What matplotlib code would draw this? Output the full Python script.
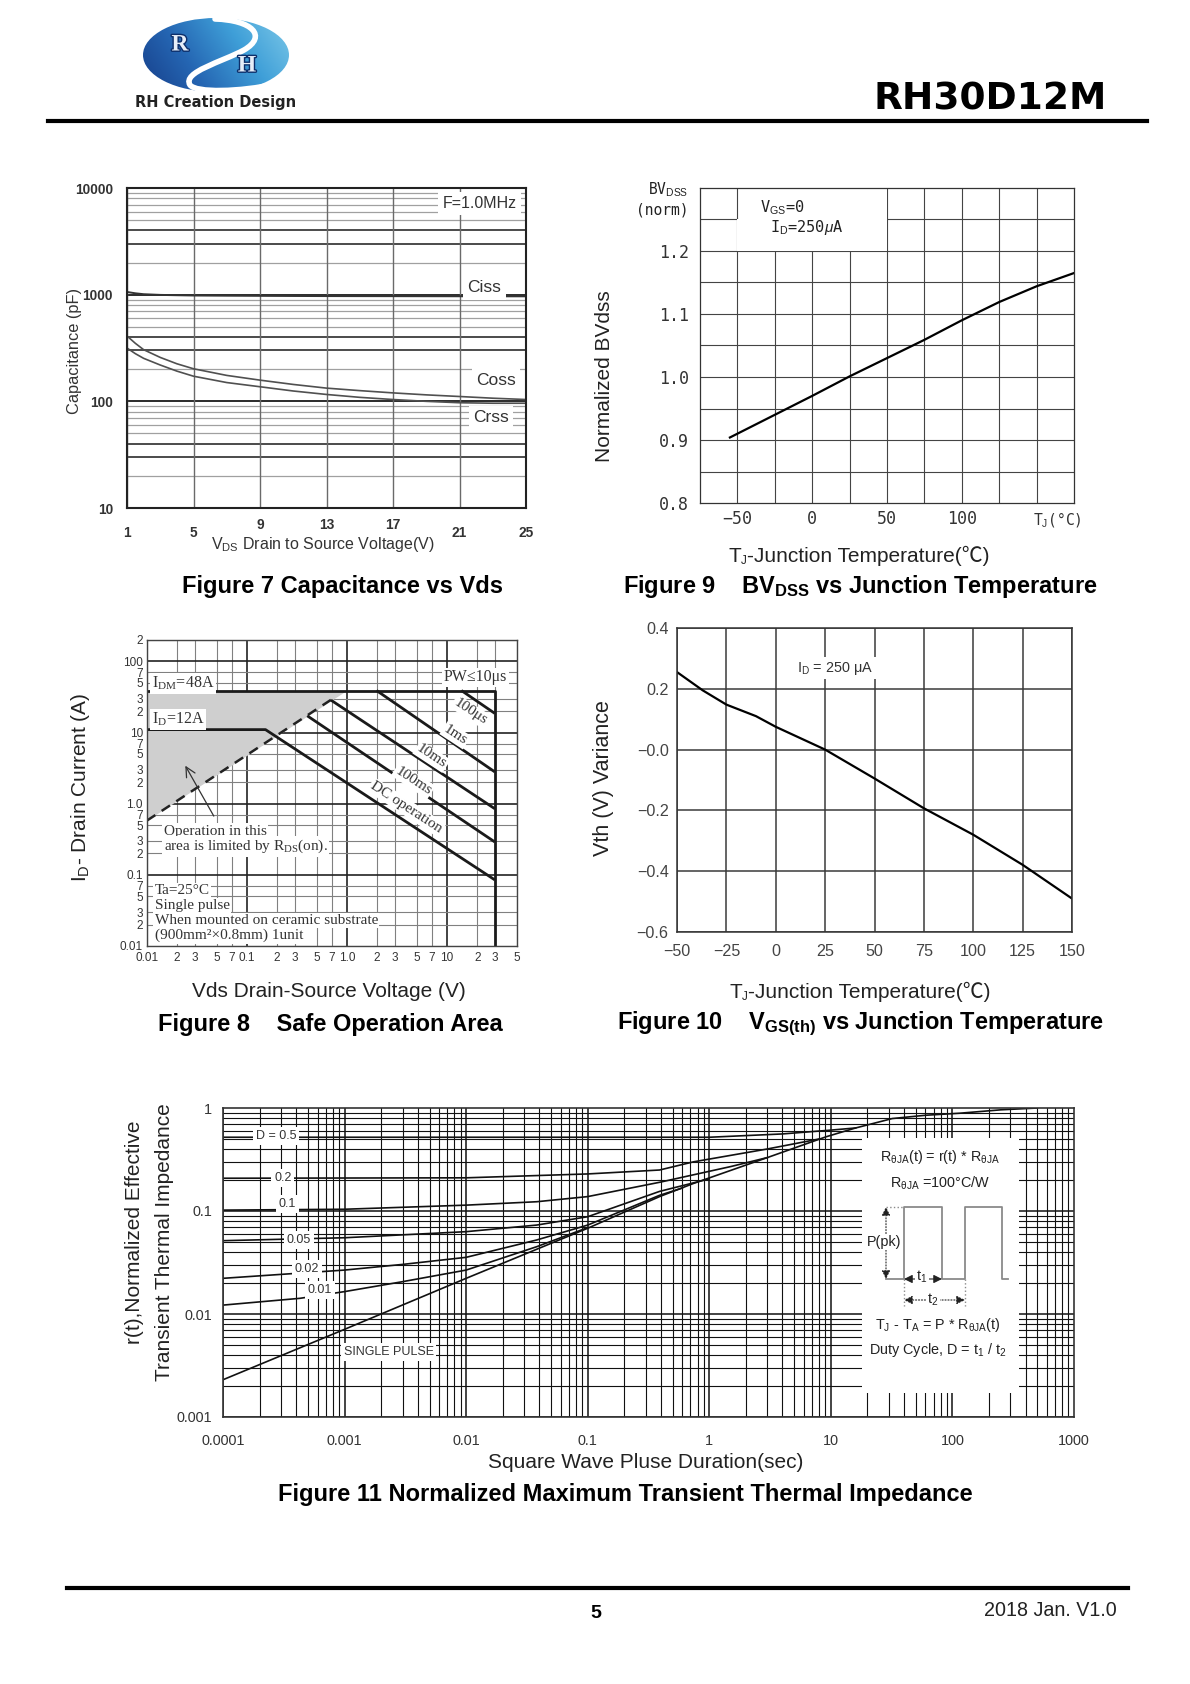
import numpy as np
import matplotlib
matplotlib.use("Agg")
import matplotlib.pyplot as plt
from matplotlib import font_manager
from matplotlib.colors import LinearSegmentedColormap
from matplotlib.patches import Ellipse, Rectangle, PathPatch
from matplotlib.path import Path
from matplotlib.patheffects import withStroke

W, H = 1190, 1684

HAS_NARROW = any(f.name == "Liberation Sans Narrow" for f in font_manager.fontManager.ttflist)
NARROW = "Liberation Sans Narrow" if HAS_NARROW else "Liberation Sans"
NS = 1.0 if HAS_NARROW else 0.86
SANS = ["Liberation Sans", "DejaVu Sans"]
SERIF = ["Liberation Serif", "DejaVu Serif"]
MONO = "DejaVu Sans Mono"

plt.rcParams["font.family"] = SANS
plt.rcParams["mathtext.fontset"] = "custom"
plt.rcParams["mathtext.rm"] = "Liberation Serif"
plt.rcParams["mathtext.sf"] = "Liberation Sans"
plt.rcParams["mathtext.it"] = "Liberation Sans:italic"
plt.rcParams["mathtext.bf"] = "Liberation Sans:bold"

# ---------------- data ----------------
# Figure 7  capacitance vs Vds (pF)
cap_vds = [1, 1.5, 2, 3, 4, 5, 7, 9, 11, 13, 15, 17, 19, 21, 23, 25]
ciss = [1060, 1030, 1010, 995, 988, 982, 978, 975, 972, 970, 969, 968, 967, 966, 965, 965]
coss = [410, 350, 305, 258, 225, 202, 175, 158, 144, 133, 126, 120, 115, 111, 107, 104]
crss = [316, 280, 253, 219, 192, 172, 150, 137, 125, 116, 109, 104, 100, 97, 96, 96]
cap_xticks = [1, 5, 9, 13, 17, 21, 25]
cap_yticks = [10, 100, 1000, 10000]

# Figure 9  normalized BVdss vs Tj
bv_temp = [-55, -25, 0, 25, 50, 75, 100, 125, 150, 175]
bv_norm = [0.904, 0.940, 0.970, 1.001, 1.030, 1.059, 1.090, 1.119, 1.144, 1.165]
bv_xticks = [-50, 0, 50, 100, 164]
bv_xlabels = ["\u221250", "0", "50", "100", "T$_\\mathsf{J}$(\u00b0C)"]
bv_yticks = [0.8, 0.9, 1.0, 1.1, 1.2]

# Figure 8  safe operating area
soa_box_vds = [0.01, 30, 30]
soa_box_id = [39, 39, 0.01]
rds_vds = [0.01, 0.72]
rds_id = [0.58, 30]
shade_vds = [0.01, 0.01, 1.0]
shade_id = [0.58, 39, 39]
dc_vds = [0.01, 0.153, 30]
dc_id = [11, 11, 0.085]
ms100_vds = [0.40, 30]
ms100_id = [17.2, 0.29]
ms10_vds = [0.69, 30]
ms10_id = [28.6, 0.85]
ms1_vds = [1.97, 30]
ms1_id = [39, 2.8]
us100_vds = [13.9, 30]
us100_id = [39, 18.6]
soa_line_labels = ["100\u03bcs", "1ms", "10ms", "100ms", "DC operation"]
soa_label_vds = [17.1, 12.1, 7.0, 4.6, 3.9]
soa_label_id = [19.8, 9.2, 4.6, 2.1, 0.89]
soa_xticks = [0.01, 0.02, 0.03, 0.05, 0.07, 0.1, 0.2, 0.3, 0.5, 0.7, 1, 2, 3, 5, 7, 10, 20, 30, 50]
soa_xlabels = ["0.01", "2", "3", "5", "7", "0.1", "2", "3", "5", "7", "1.0", "2", "3", "5", "7", "10", "2", "3", "5"]
soa_yticks = [0.01, 0.02, 0.03, 0.05, 0.07, 0.1, 0.2, 0.3, 0.5, 0.7, 1, 2, 3, 5, 7,
              10, 20, 30, 50, 70, 100, 200]
soa_ylabels = ["0.01", "2", "3", "5", "7", "0.1", "2", "3", "5", "7", "1.0", "2", "3", "5", "7",
               "10", "2", "3", "5", "7", "100", "2"]
soa_notes = ["Ta=25\u00b0C", "Single pulse", "When mounted on ceramic substrate",
             "(900mm\u00b2\u00d70.8mm) 1unit"]
soa_note_id = [0.060, 0.0369, 0.0229, 0.0141]

# Figure 10  Vgs(th) variance vs Tj
vth_temp = [-50, -37, -25, -10, 0, 25, 50, 75, 100, 125, 150]
vth_var = [0.255, 0.195, 0.148, 0.11, 0.075, 0.0, -0.095, -0.193, -0.28, -0.379, -0.49]
vth_xticks = [-50, -25, 0, 25, 50, 75, 100, 125, 150]
vth_xlabels = ["\u221250", "\u221225", "0", "25", "50", "75", "100", "125", "150"]
vth_yticks = [-0.6, -0.4, -0.2, 0.0, 0.2, 0.4]
vth_ylabels = ["\u22120.6", "\u22120.4", "\u22120.2", "\u22120.0", "0.2", "0.4"]

# Figure 11  transient thermal impedance
zth_single_t = [1e-4, 1e-3, 1e-2, 0.1, 0.39, 0.74, 3, 9.2, 16, 32, 60, 115, 250, 500]
zth_single = [0.0023, 0.0071, 0.0222, 0.068, 0.138, 0.185, 0.33, 0.527, 0.64, 0.79, 0.85,
              0.89, 0.96, 1.0]
zth_d05_t = [1e-4, 1, 4, 10, 16]
zth_d05 = [0.52, 0.52, 0.56, 0.61, 0.64]
zth_d02_t = [1e-4, 1e-2, 0.1, 0.39, 0.74, 3, 8]
zth_d02 = [0.208, 0.21, 0.229, 0.25, 0.30, 0.40, 0.50]
zth_d01_t = [1e-4, 1e-3, 1e-2, 0.038, 0.1, 0.39, 1.5, 3]
zth_d01 = [0.102, 0.104, 0.114, 0.123, 0.138, 0.19, 0.27, 0.33]
zth_d005_t = [1e-4, 1e-3, 1e-2, 0.038, 0.1, 0.39, 1.0]
zth_d005 = [0.0515, 0.055, 0.063, 0.073, 0.088, 0.155, 0.205]
zth_d002_t = [1e-4, 1e-3, 3e-3, 1e-2, 0.038, 0.1, 0.39, 0.6]
zth_d002 = [0.0222, 0.0267, 0.0303, 0.0355, 0.0523, 0.073, 0.142, 0.167]
zth_d001_t = [1e-4, 4.3e-4, 1e-3, 3e-3, 1e-2, 0.038, 0.1]
zth_d001 = [0.0122, 0.0142, 0.0165, 0.0206, 0.0267, 0.045, 0.069]
zth_labels = ["D = 0.5", "0.2", "0.1", "0.05", "0.02", "0.01", "SINGLE PULSE"]
zth_label_t = [2.73e-4, 3.1e-4, 3.4e-4, 4.2e-4, 4.9e-4, 6.3e-4, 2.3e-3]
zth_label_v = [0.535, 0.209, 0.117, 0.0524, 0.0273, 0.0171, 0.00428]
zth_xticks = [1e-4, 1e-3, 1e-2, 0.1, 1, 10, 100, 1000]
zth_xlabels = ["0.0001", "0.001", "0.01", "0.1", "1", "10", "100", "1000"]
zth_yticks = [1e-3, 1e-2, 0.1, 1]
zth_ylabels = ["0.001", "0.01", "0.1", "1"]

# duty-cycle sketch inside figure 11 (sketch units)
pulse_x = [24, 42, 42, 80, 80, 103, 103, 140, 140, 146]
pulse_y = [141, 141, 69, 69, 141, 141, 69, 69, 141, 141]

fig = plt.figure(figsize=(W / 100, H / 100), dpi=100)
fig.patch.set_facecolor("white")


def add_ax(l, t, r, b):
    return fig.add_axes([l / W, 1 - b / H, (r - l) / W, (b - t) / H])


def ftext(x, y, s, **kw):
    return fig.text(x / W, 1 - y / H, s, **kw)


def hline(x0, x1, y, lw):
    fig.add_artist(plt.Line2D([x0 / W, x1 / W], [1 - y / H, 1 - y / H],
                              color="black", lw=lw, transform=fig.transFigure))


def rich(x, y, pieces, **common):
    # draw pieces of text left to right, centred on x, baseline at y (pixels)
    r = fig.canvas.get_renderer()
    arts = []
    for s, kw in pieces:
        kw = dict(common, **kw)
        dy = kw.pop("dy", 0)
        t = fig.text(0, 0, s, va="baseline", ha="left", **kw)
        arts.append((t, t.get_window_extent(r).width, dy))
    x0 = x - sum(a[1] for a in arts) / 2
    for t, w, dy in arts:
        t.set_position((x0 / W, 1 - (y + dy) / H))
        x0 += w


def frame(ax, color, lw):
    for s in ax.spines.values():
        s.set_color(color)
        s.set_linewidth(lw)
        s.set_zorder(5)


# ---------------- header ----------------
lg = add_ax(130, 12, 310, 112)
lg.axis("off")
ell = Ellipse((216, 55), 146, 74, fc="none", ec="none")
lg.add_patch(ell)
gx, gy = np.meshgrid(np.linspace(0, 1, 200), np.linspace(0, 1, 100))
cmap = LinearSegmentedColormap.from_list("logo", ["#173f8a", "#2566b3", "#3f9fd8", "#7cc8e8"])
im = lg.imshow(0.75 * gx + 0.25 * (1 - gy), extent=(143, 289, 92, 18), cmap=cmap,
               aspect="auto", origin="upper")
im.set_clip_path(ell)
lg.set_xlim(130, 310)
lg.set_ylim(112, 12)
sw = Path([(215, 19), (252, 20), (268, 36), (244, 50), (222, 62), (182, 72), (190, 85),
           (196, 93), (240, 92), (276, 84)],
          [Path.MOVETO] + [Path.CURVE4] * 9)
lg.add_patch(PathPatch(sw, fc="none", ec="white", lw=4, capstyle="round"))
for s, x, y in [("R", 180, 45), ("H", 247, 66)]:
    lg.text(x, y, s, ha="center", va="center", family=SERIF, size=17, weight="bold",
            color="#e6eef8", path_effects=[withStroke(linewidth=2, foreground="#0d2f6b")])
lg.text(216, 102, "RH Creation Design", ha="center", va="center", family="DejaVu Sans",
        size=10.5, weight="bold", color="#222222")

ftext(1107, 110, "RH30D12M", ha="right", va="baseline", family="DejaVu Sans",
      weight="bold", size=27)
hline(48, 1147, 121, 3)

# ---------------- Figure 7 ----------------
ax = add_ax(127, 188, 526, 508)
ax.set_yscale("log")
for d in [10, 100, 1000]:
    for m in [2, 5, 6, 7, 8, 9]:
        ax.axhline(d * m, color="#a0a0a0", lw=0.9, zorder=1)
    for m in [3, 4]:
        ax.axhline(d * m, color="#1a1a1a", lw=1.1, zorder=1)
for d in [100, 1000]:
    ax.axhline(d, color="#1a1a1a", lw=1.3, zorder=1)
for v in cap_xticks:
    ax.axvline(v, color="#6a6a6a", lw=1.0, zorder=1)
ax.plot(cap_vds, ciss, color="#333333", lw=1.4, zorder=3)
ax.plot(cap_vds, coss, color="#505050", lw=1.2, zorder=3)
ax.plot(cap_vds, crss, color="#505050", lw=1.2, zorder=3)
ax.set_xlim(1, 25)
ax.set_ylim(10, 10000)
ax.minorticks_off()
ax.set_xticks(cap_xticks, [str(v) for v in cap_xticks], family=NARROW, size=11.5 * NS,
              color="#333333", weight="bold")
ax.set_yticks(cap_yticks, [str(v) for v in cap_yticks], family=NARROW, size=11.5 * NS,
              color="#333333", weight="bold")
ax.tick_params(length=0)
ax.tick_params(axis="x", pad=13)
ax.tick_params(axis="y", pad=10)
for t, v in zip(ax.xaxis.get_major_ticks(), cap_xticks):
    if v in (9, 13, 17):
        t.set_pad(7.5)
frame(ax, "#222222", 1.5)
box = dict(facecolor="white", edgecolor="none", pad=3)
ax.text(22.5, 1155, "Ciss", ha="center", va="center", size=12.5, color="#333", bbox=box, zorder=4)
ax.text(23.2, 158, "Coss", ha="center", va="center", size=12.5, color="#333", bbox=box, zorder=4)
ax.text(22.9, 70, "Crss", ha="center", va="center", size=12.5, color="#333", bbox=box, zorder=4)
ax.text(22.2, 7200, "F=1.0MHz", ha="center", va="center", size=11.5, color="#333", bbox=box,
        zorder=4)
fig.text(75 / W, 1 - 351 / H, "Capacitance (pF)", rotation=90, ha="center", va="center",
         size=11.8, color="#333333")
ftext(323, 545, "V$_\\mathsf{DS}$ Drain to Source Voltage(V)", ha="center", va="center",
      size=11.5, color="#333333")
ftext(342, 586, "Figure 7 Capacitance vs Vds", ha="center", va="center", size=17,
      weight="bold")

# ---------------- Figure 9 ----------------
ax = add_ax(700, 188, 1074, 503)
for x in np.arange(-50, 175, 25):
    ax.axvline(x, color="#444444", lw=0.8, zorder=1)
for y in np.arange(0.85, 1.29, 0.05):
    ax.axhline(y, color="#444444", lw=0.8, zorder=1)
ax.add_patch(Rectangle((-50.6, 1.2), 100.5, 0.05, fc="white", ec="none", zorder=1.5))
ax.add_patch(Rectangle((-49, 1.25), 98.9, 0.05, fc="white", ec="none", zorder=1.5))
ax.plot(bv_temp, bv_norm, color="black", lw=1.6, zorder=3)
ax.set_xlim(-75, 175)
ax.set_ylim(0.8, 1.3)
ax.set_xticks(bv_xticks, bv_xlabels, family=MONO, size=12, color="#333333")
ax.set_yticks(bv_yticks, ["0.8", "0.9", "1.0", "1.1", "1.2"], family=MONO, size=12,
              color="#333333")
ax.get_xticklabels()[-1].set_fontsize(10.5)
ax.tick_params(length=0)
ax.tick_params(axis="x", pad=5)
ax.tick_params(axis="y", pad=8)
frame(ax, "#333333", 0.9)
ax.text(-35, 1.268, "V$_\\mathsf{GS}$=0", ha="left", va="center", family=MONO,
        size=11, color="#222")
ax.text(-28, 1.237, "I$_\\mathsf{D}$=250$\\mu$A", ha="left", va="center", family=MONO,
        size=11, color="#222")
ftext(688, 190, "BV$_\\mathsf{DSS}$", ha="right", va="center", family=MONO, size=10.5,
      color="#222")
ftext(688, 210, "(norm)", ha="right", va="center", family=MONO, size=10.5, color="#222")
fig.text(604 / W, 1 - 376 / H, "Normalized BVdss", rotation=90, ha="center", va="center",
         size=15, color="#222222")
rich(859, 562, [("T", {}), ("J", {"size": 8.5, "dy": 2}),
                ("-Junction Temperature(\u2103)", {})],
     family=["Liberation Sans", "Noto Sans CJK SC"], size=15, color="#222222")
ftext(860, 586, "Figure 9    BV$_\\mathbf{DSS}$ vs Junction Temperature", ha="center",
      va="center", size=17, weight="bold")

# ---------------- Figure 8 ----------------
ax = add_ax(147, 640, 517, 946)
ax.set_xscale("log")
ax.set_yscale("log")
ax.set_xlim(0.01, 50)
ax.set_ylim(0.01, 200)
ax.minorticks_off()
for x in soa_xticks:
    dec = x in (0.1, 1, 10)
    ax.axvline(x, color="#222222" if dec else "#808080", lw=1.2 if dec else 0.8, zorder=1)
for y in soa_yticks:
    dec = y in (0.1, 1, 10, 100)
    ax.axhline(y, color="#222222" if dec else "#808080", lw=1.2 if dec else 0.8, zorder=1)
ax.fill(shade_vds, shade_id, color="#cfcfcf", lw=0, zorder=1.5)
ax.plot(rds_vds, rds_id, color="#222222", lw=1.8, ls=(0, (4, 3)), zorder=3)
for xs, ys in [(soa_box_vds, soa_box_id), (dc_vds, dc_id), (ms100_vds, ms100_id),
               (ms10_vds, ms10_id), (ms1_vds, ms1_id), (us100_vds, us100_id)]:
    ax.plot(xs, ys, color="#1a1a1a", lw=2.0, zorder=3, solid_capstyle="butt")
ax.set_xticks(soa_xticks, soa_xlabels, size=8.5, color="#333333")
ax.set_yticks(soa_yticks, soa_ylabels, size=8.5, color="#333333")
ax.tick_params(length=0)
ax.tick_params(axis="x", pad=4)
ax.tick_params(axis="y", pad=3)
frame(ax, "#444444", 1.0)
p = ax.transData.transform([(dc_vds[1], dc_id[1]), (dc_vds[2], dc_id[2])])
ang = np.degrees(np.arctan2(p[1, 1] - p[0, 1], p[1, 0] - p[0, 0]))
wbox = dict(facecolor="white", edgecolor="none", pad=1)
for s, x, y in zip(soa_line_labels, soa_label_vds, soa_label_id):
    ax.text(x, y, s, rotation=ang, rotation_mode="anchor", ha="center", va="center",
            family=SERIF, size=11, color="#333333", bbox=wbox, zorder=4)
ax.text(0.0112, 49, "I$_\\mathrm{DM}$=48A", ha="left", va="center", family=SERIF, size=11.5,
        color="#333333", bbox=wbox, zorder=4)
ax.text(0.0112, 15.4, "I$_\\mathrm{D}$=12A", ha="left", va="center", family=SERIF, size=11.5,
        color="#333333", bbox=wbox, zorder=4)
ax.text(40, 60, "PW\u226410\u03bcs", ha="right", va="center", family=SERIF, size=11.5,
        color="#333333", bbox=wbox, zorder=4)
ax.text(0.0147, 0.41, "Operation in this", ha="left", va="center", family=SERIF, size=11,
        color="#333333", bbox=wbox, zorder=4)
ax.text(0.0147, 0.25, "area is limited by R$_\\mathrm{DS}$(on).", ha="left", va="center",
        family=SERIF, size=11, color="#333333", bbox=wbox, zorder=4)
ax.annotate("", xy=(0.0234, 3.7), xytext=(0.048, 0.62),
            arrowprops=dict(arrowstyle="->,head_length=0.7,head_width=0.35", lw=0.9,
                            color="#333333"), zorder=4)
for s, y in zip(soa_notes, soa_note_id):
    ax.text(0.0119, y, s, ha="left", va="center", family=SERIF, size=11, color="#333333",
            bbox=wbox, zorder=4)
fig.text(80 / W, 1 - 787 / H, "I$_\\mathsf{D}$- Drain Current (A)", rotation=90, ha="center",
         va="center", size=15, color="#222222")
ftext(329, 992, "Vds Drain-Source Voltage (V)", ha="center", va="center", size=15,
      color="#222222")
ftext(330, 1024, "Figure 8    Safe Operation Area", ha="center", va="center", size=17,
      weight="bold")

# ---------------- Figure 10 ----------------
ax = add_ax(677, 628, 1072, 932)
for x in vth_xticks:
    ax.axvline(x, color="#3a3a3a", lw=1.1, zorder=1)
for y in vth_yticks:
    ax.axhline(y, color="#3a3a3a", lw=1.1, zorder=1)
ax.plot(vth_temp, vth_var, color="black", lw=1.6, zorder=3)
ax.set_xlim(-50, 150)
ax.set_ylim(-0.6, 0.4)
ax.set_xticks(vth_xticks, vth_xlabels, family=NARROW, size=13.5 * NS, color="#444444")
ax.set_yticks(vth_yticks, vth_ylabels, family=NARROW, size=13.5 * NS, color="#444444")
ax.tick_params(length=0)
ax.tick_params(axis="x", pad=9)
ax.tick_params(axis="y", pad=6)
frame(ax, "#333333", 1.1)
ax.text(30, 0.268, "I$_\\mathsf{D}$ = 250 \u03bcA", ha="center", va="center", family=NARROW,
        size=12 * NS, color="#333333", bbox=dict(facecolor="white", edgecolor="none", pad=2),
        zorder=4)
fig.text(604 / W, 1 - 778 / H, "Vth (V) Variance", rotation=90, ha="center", va="center",
         size=15.5, color="#222222")
rich(860, 998, [("T", {}), ("J", {"size": 8.5, "dy": 2}),
                ("-Junction Temperature(\u2103)", {})],
     family=["Liberation Sans", "Noto Sans CJK SC"], size=15, color="#222222")
ftext(861, 1024, "Figure 10    V$_\\mathbf{GS(th)}$ vs Junction Temperature", ha="center",
      va="center", size=17, weight="bold")

# ---------------- Figure 11 ----------------
ax = add_ax(223, 1108, 1074, 1417)
ax.set_xscale("log")
ax.set_yscale("log")
ax.set_xlim(1e-4, 1e3)
ax.set_ylim(1e-3, 1)
ax.minorticks_off()
for e in range(-4, 3):
    for m in range(1, 10):
        ax.axvline(m * 10.0 ** e, color="#111111", lw=1.1 if m == 1 else 0.8, zorder=1)
for e in range(-3, 0):
    for m in range(1, 10):
        ax.axhline(m * 10.0 ** e, color="#111111", lw=1.1 if m == 1 else 0.8, zorder=1)
for ts, vs in [(zth_single_t, zth_single), (zth_d05_t, zth_d05), (zth_d02_t, zth_d02),
               (zth_d01_t, zth_d01), (zth_d005_t, zth_d005), (zth_d002_t, zth_d002),
               (zth_d001_t, zth_d001)]:
    ax.plot(ts, vs, color="#111111", lw=1.2, zorder=3)
ax.set_xticks(zth_xticks, zth_xlabels, family=NARROW, size=12 * NS, color="#333333")
ax.set_yticks(zth_yticks, zth_ylabels, family=NARROW, size=12 * NS, color="#333333")
ax.tick_params(length=0)
ax.tick_params(axis="x", pad=12)
ax.tick_params(axis="y", pad=8)
frame(ax, "#333333", 1.2)
for s, x, y in zip(zth_labels, zth_label_t, zth_label_v):
    ax.text(x, y, s, ha="center", va="center", family=NARROW, size=10.5 * NS, color="#333333",
            bbox=dict(facecolor="white", edgecolor="none", pad=2), zorder=4)
fig.text(135 / W, 1 - 1232 / H, "r(t),Normalized Effective", rotation=90, ha="center",
         va="center", size=15, color="#222222")
fig.text(164 / W, 1 - 1242 / H, "Transient Thermal Impedance", rotation=90, ha="center",
         va="center", size=15, color="#222222")
ftext(646, 1462, "Square Wave Pluse Duration(sec)", ha="center", va="center", size=15,
      color="#222222")
ftext(625, 1494, "Figure 11 Normalized Maximum Transient Thermal Impedance", ha="center",
      va="center", size=17, weight="bold")

# duty-cycle sketch box
axi = add_ax(862, 1138, 1019, 1393)
axi.set_xlim(0, 157)
axi.set_ylim(255, 0)
axi.set_xticks([])
axi.set_yticks([])
for s in axi.spines.values():
    s.set_visible(False)
tk = dict(family=NARROW, size=12 * NS, color="#222222", ha="center", va="center")
axi.text(78, 19, "R$_\\mathsf{\u03b8JA}$(t) = r(t) * R$_\\mathsf{\u03b8JA}$", **tk)
axi.text(78, 45, "R$_\\mathsf{\u03b8JA}$ =100\u00b0C/W", **tk)
axi.plot(pulse_x, pulse_y, color="#8a8a8a", lw=1.3)
axi.plot([24, 42], [69, 69], color="#8a8a8a", lw=1.0, ls=":")
axi.plot([42, 42], [141, 168], color="#8a8a8a", lw=1.0, ls=":")
axi.plot([103, 103], [141, 168], color="#8a8a8a", lw=1.0, ls=":")
axi.annotate("", xy=(24, 69), xytext=(24, 141),
             arrowprops=dict(arrowstyle="<|-|>,head_length=0.5,head_width=0.25", lw=0.8,
                             ls=":", color="#222222", shrinkA=0, shrinkB=0))
axi.annotate("", xy=(42, 141), xytext=(80, 141),
             arrowprops=dict(arrowstyle="<|-|>,head_length=0.5,head_width=0.25", lw=0.8,
                             color="#222222", shrinkA=0, shrinkB=0))
axi.annotate("", xy=(42, 162), xytext=(103, 162),
             arrowprops=dict(arrowstyle="<|-|>,head_length=0.5,head_width=0.25", lw=0.8,
                             ls=":", color="#222222", shrinkA=0, shrinkB=0))
wb = dict(facecolor="white", edgecolor="none", pad=1)
axi.text(22.5, 104, "P(pk)", bbox=wb, **tk)
axi.text(60, 139, "t$_\\mathsf{1}$", bbox=wb, **tk)
axi.text(71, 162, "t$_\\mathsf{2}$", bbox=wb, **tk)
axi.text(76, 187, "T$_\\mathsf{J}$ - T$_\\mathsf{A}$ = P * R$_\\mathsf{\u03b8JA}$(t)", **tk)
axi.text(76, 212, "Duty Cycle, D = t$_\\mathsf{1}$ / t$_\\mathsf{2}$", **tk)

# ---------------- footer ----------------
hline(67, 1128, 1588, 3)
ftext(596, 1613, "5", ha="center", va="center", size=14, weight="bold")
ftext(1117, 1610, "2018 Jan. V1.0", ha="right", va="center", family=NARROW, size=16.5 * NS,
      color="#222222")

fig.savefig("out.png", dpi=100, facecolor="white")
